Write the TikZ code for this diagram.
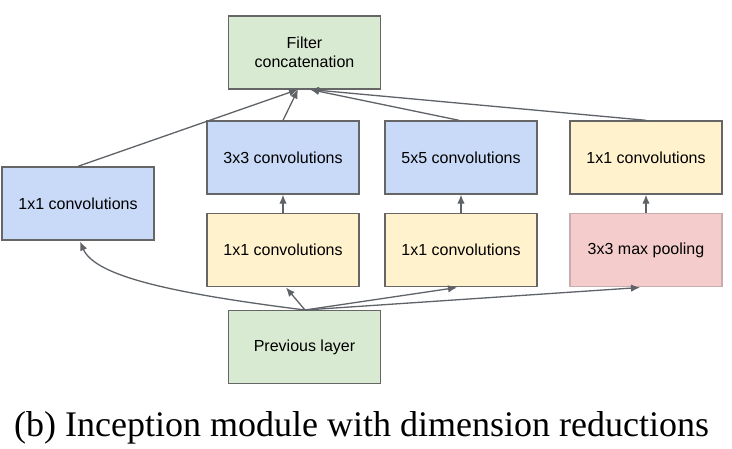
\documentclass[tikz,border=0pt]{standalone}
\usepackage{fontspec}
\setmainfont{Liberation Sans}
\newfontfamily\capfont{Liberation Serif}
\usetikzlibrary{arrows.meta}
\definecolor{boxblue}{HTML}{C9DAF8}
\definecolor{boxyellow}{HTML}{FFF2CC}
\definecolor{boxgreen}{HTML}{D9EAD3}
\definecolor{boxpink}{HTML}{F4CCCC}
\definecolor{edgegray}{HTML}{666666}
\definecolor{arrgray}{HTML}{5F6368}
\tikzset{
  layerbox/.style={draw=edgegray, line width=1.4pt, minimum width=152pt, minimum height=73pt,
    inner sep=0pt, align=center, font=\fontsize{16}{19.5}\selectfont, text=black},
  bluebox/.style={layerbox, fill=boxblue},
  yellowbox/.style={layerbox, fill=boxyellow},
  greenbox/.style={layerbox, fill=boxgreen},
  pinkbox/.style={layerbox, fill=boxpink, draw=boxpink!70!edgegray},
  conn/.style={draw=arrgray, line width=1.3pt, -{Latex[length=9pt,width=7.5pt]}},
}
\begin{document}
\begin{tikzpicture}[x=1pt,y=-1pt]
\useasboundingbox (0,0) rectangle (732,448);
\fill[white] (0,0) rectangle (732,448);
\node[greenbox] (concat) at (304.5,52.5) {Filter\\concatenation};
\node[bluebox] (c3) at (283,157.5) {3x3 convolutions};
\node[bluebox] (c5) at (461,157.5) {5x5 convolutions};
\node[yellowbox] (cp) at (646,157.5) {1x1 convolutions};
\node[bluebox] (c1) at (78,203.5) {1x1 convolutions};
\node[yellowbox] (r3) at (283,250) {1x1 convolutions};
\node[yellowbox] (r5) at (461,250) {1x1 convolutions};
\node[pinkbox] (pool) at (646,250) {3x3 max pooling};
\node[greenbox] (prev) at (304.5,347) {Previous layer};
\coordinate (ca) at (298,89.5);
\coordinate (cb) at (310,89.5);
\coordinate (pa) at (305,310);
\coordinate (c1b) at (80,241.5);
\coordinate (r3b) at (286,287.5);
\coordinate (r5b) at (457,287.5);
\coordinate (poolb) at (640,287.5);
\draw[conn] (c1.north) -- (ca);
\draw[conn] (c3.north) -- (ca);
\draw[conn] ([xshift=-2pt]c5.north) -- (cb);
\draw[conn] (cp.north) -- (cb);
\draw[conn] (r3.north) -- (c3.south);
\draw[conn] (r5.north) -- (c5.south);
\draw[conn] (pool.north) -- (cp.south);
\draw[conn] (pa) .. controls (170,293) and (95,276) .. (c1b);
\draw[conn] (pa) -- (r3b);
\draw[conn] (pa) -- (r5b);
\draw[conn] (pa) -- (poolb);
\node[anchor=base west, inner sep=0pt, font=\capfont\fontsize{36}{40}\selectfont] (cap) at (14,436) {(b) Inception module with dimension reductions};
\end{tikzpicture}
\end{document}
